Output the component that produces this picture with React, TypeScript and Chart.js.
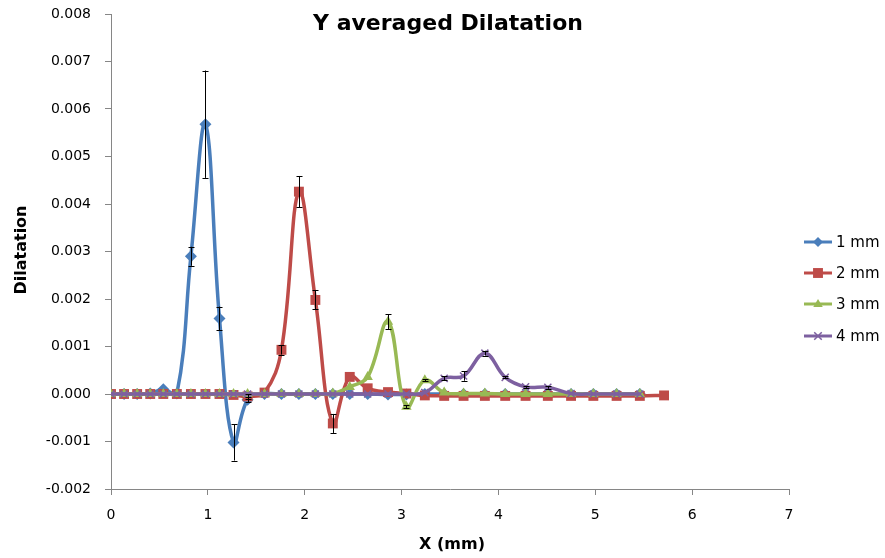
import React, { useEffect, useRef } from "react";
import { Chart, registerables } from "chart.js";

Chart.register(...registerables);

// Shared X positions (mm) for series 1, 3 and 4
const X_MM = [
  0, 0.135, 0.27, 0.405, 0.54, 0.68, 0.825, 0.975, 1.12, 1.265, 1.41,
  1.585, 1.76, 1.94, 2.11, 2.29, 2.465, 2.65, 2.86, 3.05, 3.24, 3.44,
  3.64, 3.86, 4.07, 4.28, 4.51, 4.75, 4.98, 5.22, 5.46,
];
// Series 2 has one extra point
const X_MM_2 = [
  0, 0.135, 0.27, 0.405, 0.54, 0.68, 0.825, 0.975, 1.12, 1.265, 1.41,
  1.585, 1.76, 1.94, 2.11, 2.29, 2.465, 2.65, 2.86, 3.05, 3.24, 3.44,
  3.64, 3.86, 4.07, 4.28, 4.51, 4.75, 4.98, 5.22, 5.46, 5.71,
];

const SERIES_NAMES = ["1 mm", "2 mm", "3 mm", "4 mm"];
const SERIES_COLORS = ["#4A7EBB", "#BE4B48", "#98B954", "#7D60A0"];

const DIL_1MM = [
  0, 0, 0, 0.00001, 0.0001, 0.00001, 0.0029, 0.00568, 0.00159, -0.00102, -0.00012,
  0, 0, 0, 0, 0, 0, 0, -0.00001, -0.00001, 0, 0,
  0, 0, 0, 0, 0, 0, 0, 0, 0,
];
const ERR_1MM = [
  0, 0, 0, 0, 0, 0, 0.0002, 0.00113, 0.00025, 0.00038, 0.00005,
  0, 0, 0, 0, 0, 0, 0, 0, 0, 0, 0,
  0, 0, 0, 0, 0, 0, 0, 0, 0,
];

const DIL_2MM = [
  0, 0, 0, 0, 0, 0, 0, 0, 0, -0.00002, -0.00005,
  0.00003, 0.00093, 0.00426, 0.00198, -0.00062, 0.00036, 0.00012, 0.00004, 0.00001, -0.00003, -0.00004,
  -0.00004, -0.00004, -0.00004, -0.00004, -0.00004, -0.00004, -0.00004, -0.00004, -0.00004, -0.00003,
];
const ERR_2MM = [
  0, 0, 0, 0, 0, 0, 0, 0, 0, 0, 0.00005,
  0, 0.0001, 0.00033, 0.0002, 0.0002, 0, 0, 0, 0, 0, 0,
  0, 0, 0, 0, 0, 0, 0, 0, 0, 0,
];

const DIL_3MM = [
  0, 0, 0, 0, 0, 0, 0, 0, 0, 0, 0,
  0, 0, 0, 0, 0.00001, 0.00015, 0.00036, 0.00152, -0.00027, 0.00029, 0.00003,
  0.00001, 0.00001, 0, 0, 0, 0, 0, 0, 0,
];
const ERR_3MM = [
  0, 0, 0, 0, 0, 0, 0, 0, 0, 0, 0,
  0, 0, 0, 0, 0, 0, 0, 0.00016, 0.00003, 0.00002, 0,
  0, 0, 0, 0, 0, 0, 0, 0, 0,
];

const DIL_4MM = [
  0, 0, 0, 0, 0, 0, 0, 0, 0, 0, 0,
  0, 0, 0, 0, 0, 0, 0, 0, 0, 0.00003, 0.00033,
  0.00038, 0.00086, 0.00035, 0.00015, 0.00014, 0.00001, 0, 0, 0,
];
const ERR_4MM = [
  0, 0, 0, 0, 0, 0, 0, 0, 0, 0, 0,
  0, 0, 0, 0, 0, 0, 0, 0, 0, 0, 0.00004,
  0.0001, 0.00005, 0.00002, 0.00002, 0.00003, 0, 0, 0, 0,
];

const X_TICKS = [0, 1, 2, 3, 4, 5, 6, 7];
const Y_MIN = -0.002;
const Y_MAX = 0.008;
const Y_STEP = 0.001;

const TITLE = "Y averaged Dilatation";
const X_TITLE = "X (mm)";
const Y_TITLE = "Dilatation";

const SERIES = [
  { x: X_MM, y: DIL_1MM, err: ERR_1MM, style: "rectRot", radius: 6 },
  { x: X_MM_2, y: DIL_2MM, err: ERR_2MM, style: "rect", radius: 7 },
  { x: X_MM, y: DIL_3MM, err: ERR_3MM, style: "triangle", radius: 6 },
  { x: X_MM, y: DIL_4MM, err: ERR_4MM, style: "crossRot", radius: 5 },
];

const FONT = "'DejaVu Sans', sans-serif";

function drawMarker(ctx: CanvasRenderingContext2D, style: string, x: number, y: number, r: number, color: string) {
  ctx.save();
  ctx.fillStyle = color;
  ctx.strokeStyle = color;
  ctx.beginPath();
  if (style === "rectRot") {
    ctx.moveTo(x, y - r);
    ctx.lineTo(x + r, y);
    ctx.lineTo(x, y + r);
    ctx.lineTo(x - r, y);
    ctx.closePath();
    ctx.fill();
  } else if (style === "rect") {
    const s = r * Math.SQRT1_2;
    ctx.rect(x - s, y - s, 2 * s, 2 * s);
    ctx.fill();
  } else if (style === "triangle") {
    ctx.moveTo(x, y - r);
    ctx.lineTo(x + r * 0.95, y + r * 0.6);
    ctx.lineTo(x - r * 0.95, y + r * 0.6);
    ctx.closePath();
    ctx.fill();
  } else {
    ctx.lineWidth = 1.5;
    ctx.moveTo(x - r * 0.75, y - r * 0.75);
    ctx.lineTo(x + r * 0.75, y + r * 0.75);
    ctx.moveTo(x + r * 0.75, y - r * 0.75);
    ctx.lineTo(x - r * 0.75, y + r * 0.75);
    ctx.stroke();
  }
  ctx.restore();
}

const overlayPlugin = {
  id: "overlay",
  afterDatasetsDraw(chart: any) {
    const ctx: CanvasRenderingContext2D = chart.ctx;
    const xs = chart.scales.x;
    const ys = chart.scales.y;
    // error bars
    ctx.save();
    ctx.strokeStyle = "#000";
    ctx.lineWidth = 1;
    SERIES.forEach((s) => {
      s.err.forEach((e, i) => {
        if (!e) return;
        const px = Math.round(xs.getPixelForValue(s.x[i])) + 0.5;
        const top = ys.getPixelForValue(s.y[i] + e);
        const bot = ys.getPixelForValue(s.y[i] - e);
        ctx.beginPath();
        ctx.moveTo(px, top);
        ctx.lineTo(px, bot);
        ctx.moveTo(px - 3, Math.round(top) + 0.5);
        ctx.lineTo(px + 3, Math.round(top) + 0.5);
        ctx.moveTo(px - 3, Math.round(bot) + 0.5);
        ctx.lineTo(px + 3, Math.round(bot) + 0.5);
        ctx.stroke();
      });
    });
    ctx.restore();
  },
  afterDraw(chart: any) {
    const ctx: CanvasRenderingContext2D = chart.ctx;
    const area = chart.chartArea;
    ctx.save();
    ctx.fillStyle = "#000";
    // title
    ctx.font = `bold 22px ${FONT}`;
    ctx.textAlign = "center";
    ctx.textBaseline = "middle";
    ctx.fillText(TITLE, (area.left + area.right) / 2 - 2, 24);
    // x title
    ctx.font = `bold 16px ${FONT}`;
    ctx.fillText(X_TITLE, 452, 545);
    // y title
    ctx.save();
    ctx.translate(22, 250);
    ctx.rotate(-Math.PI / 2);
    ctx.fillText(Y_TITLE, 0, 0);
    ctx.restore();
    // legend
    const legendY = [242, 273, 304, 336];
    SERIES.forEach((s, i) => {
      const y = legendY[i];
      const c = SERIES_COLORS[i];
      ctx.save();
      ctx.strokeStyle = c;
      ctx.lineWidth = 3;
      ctx.beginPath();
      ctx.moveTo(804, y);
      ctx.lineTo(832, y);
      ctx.stroke();
      ctx.restore();
      drawMarker(ctx, s.style, 818, y, s.style === "rect" ? 7 : 5, c);
      ctx.font = `15px ${FONT}`;
      ctx.textAlign = "left";
      ctx.textBaseline = "middle";
      ctx.fillStyle = "#000";
      ctx.fillText(SERIES_NAMES[i], 836, y + 1);
    });
    ctx.restore();
  },
};

export default function App() {
  const ref = useRef<HTMLCanvasElement | null>(null);
  useEffect(() => {
    if (!ref.current) return;
    const datasets = SERIES.map((s, i) => ({
      label: SERIES_NAMES[i],
      data: s.x.map((x, j) => ({ x, y: s.y[j] })),
      showLine: true,
      borderColor: SERIES_COLORS[i],
      backgroundColor: SERIES_COLORS[i],
      pointBackgroundColor: SERIES_COLORS[i],
      pointBorderColor: SERIES_COLORS[i],
      pointBorderWidth: s.style === "crossRot" ? 1.5 : 0,
      borderWidth: 3.5,
      tension: 0.4,
      pointStyle: s.style,
      pointRadius: s.radius,
      order: 3 - i,
    }));
    const chart = new Chart(ref.current, {
      type: "scatter",
      data: { datasets },
      plugins: [overlayPlugin],
      options: {
        animation: false,
        responsive: false,
        layout: { padding: { top: 14, right: 96, bottom: 0, left: 0 } },
        plugins: {
          legend: { display: false },
          tooltip: { enabled: false },
          title: { display: false },
        },
        scales: {
          x: {
            type: "linear",
            min: X_TICKS[0],
            max: X_TICKS[X_TICKS.length - 1],
            afterFit: (sc: any) => {
              sc.height = 69;
              sc.paddingLeft = 0;
              sc.paddingRight = 0;
            },
            afterBuildTicks: (sc: any) => {
              sc.ticks = X_TICKS.map((v) => ({ value: v }));
            },
            ticks: {
              color: "#000",
              font: { family: FONT, size: 14 },
              padding: 12,
              callback: (v: any) => String(v),
            },
            grid: {
              display: true,
              drawOnChartArea: false,
              drawTicks: true,
              tickLength: 6,
              color: "#868686",
            },
            border: { display: true, color: "#868686", width: 1 },
          },
          y: {
            type: "linear",
            min: Y_MIN,
            max: Y_MAX,
            afterFit: (sc: any) => {
              sc.width = 111;
              sc.paddingTop = 0;
              sc.paddingBottom = 0;
            },
            ticks: {
              stepSize: Y_STEP,
              color: "#000",
              font: { family: FONT, size: 14 },
              padding: 14,
              callback: (v: any) => Number(v).toFixed(3),
            },
            grid: {
              display: true,
              drawOnChartArea: false,
              drawTicks: true,
              tickLength: 6,
              color: "#868686",
            },
            border: { display: true, color: "#868686", width: 1 },
          },
        },
      },
    } as any);
    return () => chart.destroy();
  }, []);
  return (
    <div style={{ position: "absolute", left: 0, top: 0, width: 885, height: 558, background: "#fff" }}>
      <canvas ref={ref} width={885} height={558} />
    </div>
  );
}
